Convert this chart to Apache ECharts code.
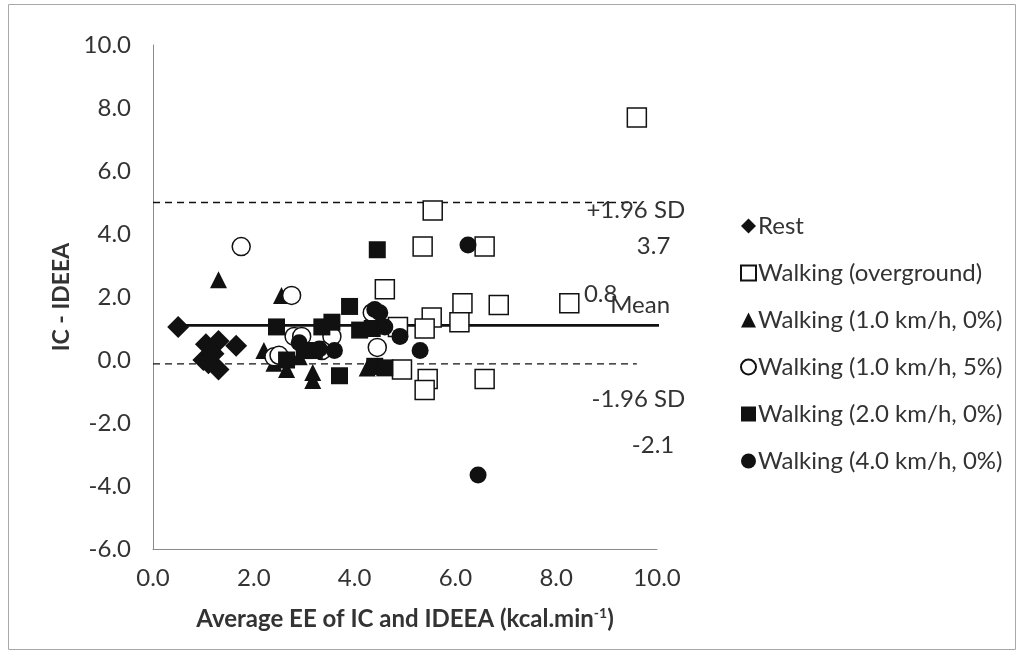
<!DOCTYPE html>
<html>
<head>
<meta charset="utf-8">
<script src="https://cdn.jsdelivr.net/npm/echarts@6/dist/echarts.min.js"></script>
<style>
  html, body { margin: 0; padding: 0; background: #fff; }
  #chart { width: 1020px; height: 661px; }
</style>
</head>
<body>
<div id="chart"></div>
<script>
// Bland-Altman style plot: difference (IC - IDEEA) vs. average EE, by activity
const seriesNames = [
  'Rest',
  'Walking (overground)',
  'Walking (1.0 km/h, 0%)',
  'Walking (1.0 km/h, 5%)',
  'Walking (2.0 km/h, 0%)',
  'Walking (4.0 km/h, 0%)'
];

// [average EE, difference]
const rest = [[0.5, 1.05], [1.05, 0.5], [1.3, 0.6], [1.65, 0.45], [1.0, 0.0], [1.3, -0.3], [1.2, 0.2], [1.1, -0.1]];
const overground = [[9.6, 7.7], [5.55, 4.75], [5.35, 3.6], [6.58, 3.6], [4.6, 2.25], [6.14, 1.8], [6.86, 1.75], [8.26, 1.8],
  [5.53, 1.35], [6.08, 1.2], [5.39, 1.0], [4.86, 1.05], [4.94, -0.3], [5.45, -0.6], [5.39, -0.95], [6.58, -0.6]];
const walk1flat = [[1.3, 2.55], [2.55, 2.05], [2.2, 0.3], [2.4, -0.1], [2.65, -0.3], [3.17, -0.4], [3.17, -0.65], [4.25, -0.25], [4.45, -0.2], [2.9, 0.1]];
const walk1incl = [[1.75, 3.6], [2.75, 2.05], [2.8, 0.75], [2.95, 0.75], [2.4, 0.1], [2.5, 0.15], [3.55, 0.75], [4.35, 1.5], [4.45, 0.4], [3.35, 0.3]];
const walk2flat = [[4.45, 3.5], [3.9, 1.7], [2.45, 1.05], [3.35, 1.05], [3.55, 1.2], [4.1, 0.95], [3.0, 0.3], [2.65, 0.0],
  [3.7, -0.5], [4.4, -0.2], [4.6, -0.25], [3.2, 0.3], [4.35, 1.0]];
const walk4flat = [[6.25, 3.65], [6.45, -3.65], [5.3, 0.3], [4.9, 0.75], [4.4, 1.6], [4.6, 1.05], [3.6, 0.3], [3.3, 0.35], [2.9, 0.55], [4.5, 1.5]];

// reference lines: mean and limits of agreement
const meanLine = [[0.5, 1.1], [10.1, 1.1]];
const upperLine = [[0.0, 5.0], [9.6, 5.0]];
const lowerLine = [[0.0, -0.12], [9.6, -0.12]];

// annotation texts with their anchor [x, y] in data units
const notes = [
  { text: '+1.96 SD', at: [8.6, 4.75] },
  { text: '3.7', at: [9.6, 3.6] },
  { text: '0.8', at: [8.55, 2.1] },
  { text: 'Mean', at: [9.07, 1.75] },
  { text: '-1.96 SD', at: [8.7, -1.24] },
  { text: '-2.1', at: [9.5, -2.7] }
];

const xTicks = { min: 0, max: 10, step: 2 };
const yTicks = { min: -6, max: 10, step: 2 };

const FONT = 'Lato, "Open Sans", sans-serif';
const FS = 24;
const chart = echarts.init(document.getElementById('chart'), null, { renderer: 'canvas' });

const openStyle = { color: '#ffffff', borderColor: '#111', borderWidth: 1.5, opacity: 1 };
const fillStyle = { color: '#111', borderColor: '#111', borderWidth: 0, opacity: 1 };

function pts(name, data, symbol, size, style) {
  return { name, type: 'scatter', data, symbol, symbolSize: size, itemStyle: style, emphasis: { disabled: true } };
}
function refLine(data, type, width) {
  return {
    type: 'line', data, symbol: 'none', silent: true,
    lineStyle: { color: '#111', width, type },
    z: 1
  };
}

chart.setOption({
  animation: false,
  backgroundColor: '#ffffff',
  textStyle: { fontFamily: FONT },
  grid: { left: 153, right: 363, top: 45, bottom: 112, containLabel: false },
  xAxis: {
    type: 'value', min: xTicks.min, max: xTicks.max, interval: xTicks.step,
    axisLine: { onZero: false, lineStyle: { color: '#8a8a8a', width: 1 } },
    axisTick: { show: false },
    splitLine: { show: false },
    axisLabel: { color: '#333', fontSize: FS, fontFamily: FONT, margin: 17, formatter: v => v.toFixed(1) },
    name: '{t|Average EE of IC and IDEEA (kcal.min}{s|-1}{t|)}',
    nameLocation: 'middle', nameGap: 57,
    nameTextStyle: {
      rich: {
        t: { fontSize: FS, fontWeight: 'bold', color: '#333', fontFamily: FONT },
        s: { fontSize: 14, fontWeight: 'bold', color: '#333', fontFamily: FONT, verticalAlign: 'top', padding: [0, 0, 12, 0] }
      }
    }
  },
  yAxis: {
    type: 'value', min: yTicks.min, max: yTicks.max, interval: yTicks.step,
    axisLine: { onZero: false, lineStyle: { color: '#8a8a8a', width: 1 } },
    axisTick: { show: false },
    splitLine: { show: false },
    axisLabel: { color: '#333', fontSize: FS, fontFamily: FONT, margin: 22, formatter: v => v.toFixed(1) },
    name: 'IC - IDEEA', nameLocation: 'middle', nameGap: 80, nameRotate: 90,
    nameTextStyle: { fontSize: 23, fontWeight: 'bold', color: '#333', fontFamily: FONT }
  },
  legend: {
    data: seriesNames,
    orient: 'vertical', left: 735, top: 209,
    itemWidth: 15, itemHeight: 15, itemGap: 23,
    textStyle: { fontSize: FS, color: '#333', fontFamily: FONT, padding: [0, 0, 0, -3] },
    selectedMode: false
  },
  series: [
    refLine(upperLine, [7, 5], 1.3),
    refLine(lowerLine, [7, 5], 1.3),
    refLine(meanLine, 'solid', 2.6),
    pts(seriesNames[0], rest, 'diamond', 22, fillStyle),
    pts(seriesNames[1], overground, 'rect', 19, openStyle),
    pts(seriesNames[2], walk1flat, 'triangle', 17, fillStyle),
    pts(seriesNames[3], walk1incl, 'circle', 18, openStyle),
    pts(seriesNames[4], walk2flat, 'rect', 17, fillStyle),
    pts(seriesNames[5], walk4flat, 'circle', 17, fillStyle)
  ]
});

// place annotation texts from data coordinates, plus the outer frame
const graphics = [{
  type: 'rect', silent: true,
  shape: { x: 8.5, y: 4.5, width: 1007, height: 645 },
  style: { fill: 'none', stroke: '#a8a8a8', lineWidth: 1 }
}];
notes.forEach(n => {
  const p = chart.convertToPixel({ gridIndex: 0 }, n.at);
  graphics.push({
    type: 'text', silent: true, x: p[0], y: p[1],
    style: { text: n.text, fontSize: FS, fontFamily: FONT, fill: '#333', textAlign: 'left', textVerticalAlign: 'middle' },
    z: 5
  });
});
chart.setOption({ graphic: graphics });
</script>
</body>
</html>
